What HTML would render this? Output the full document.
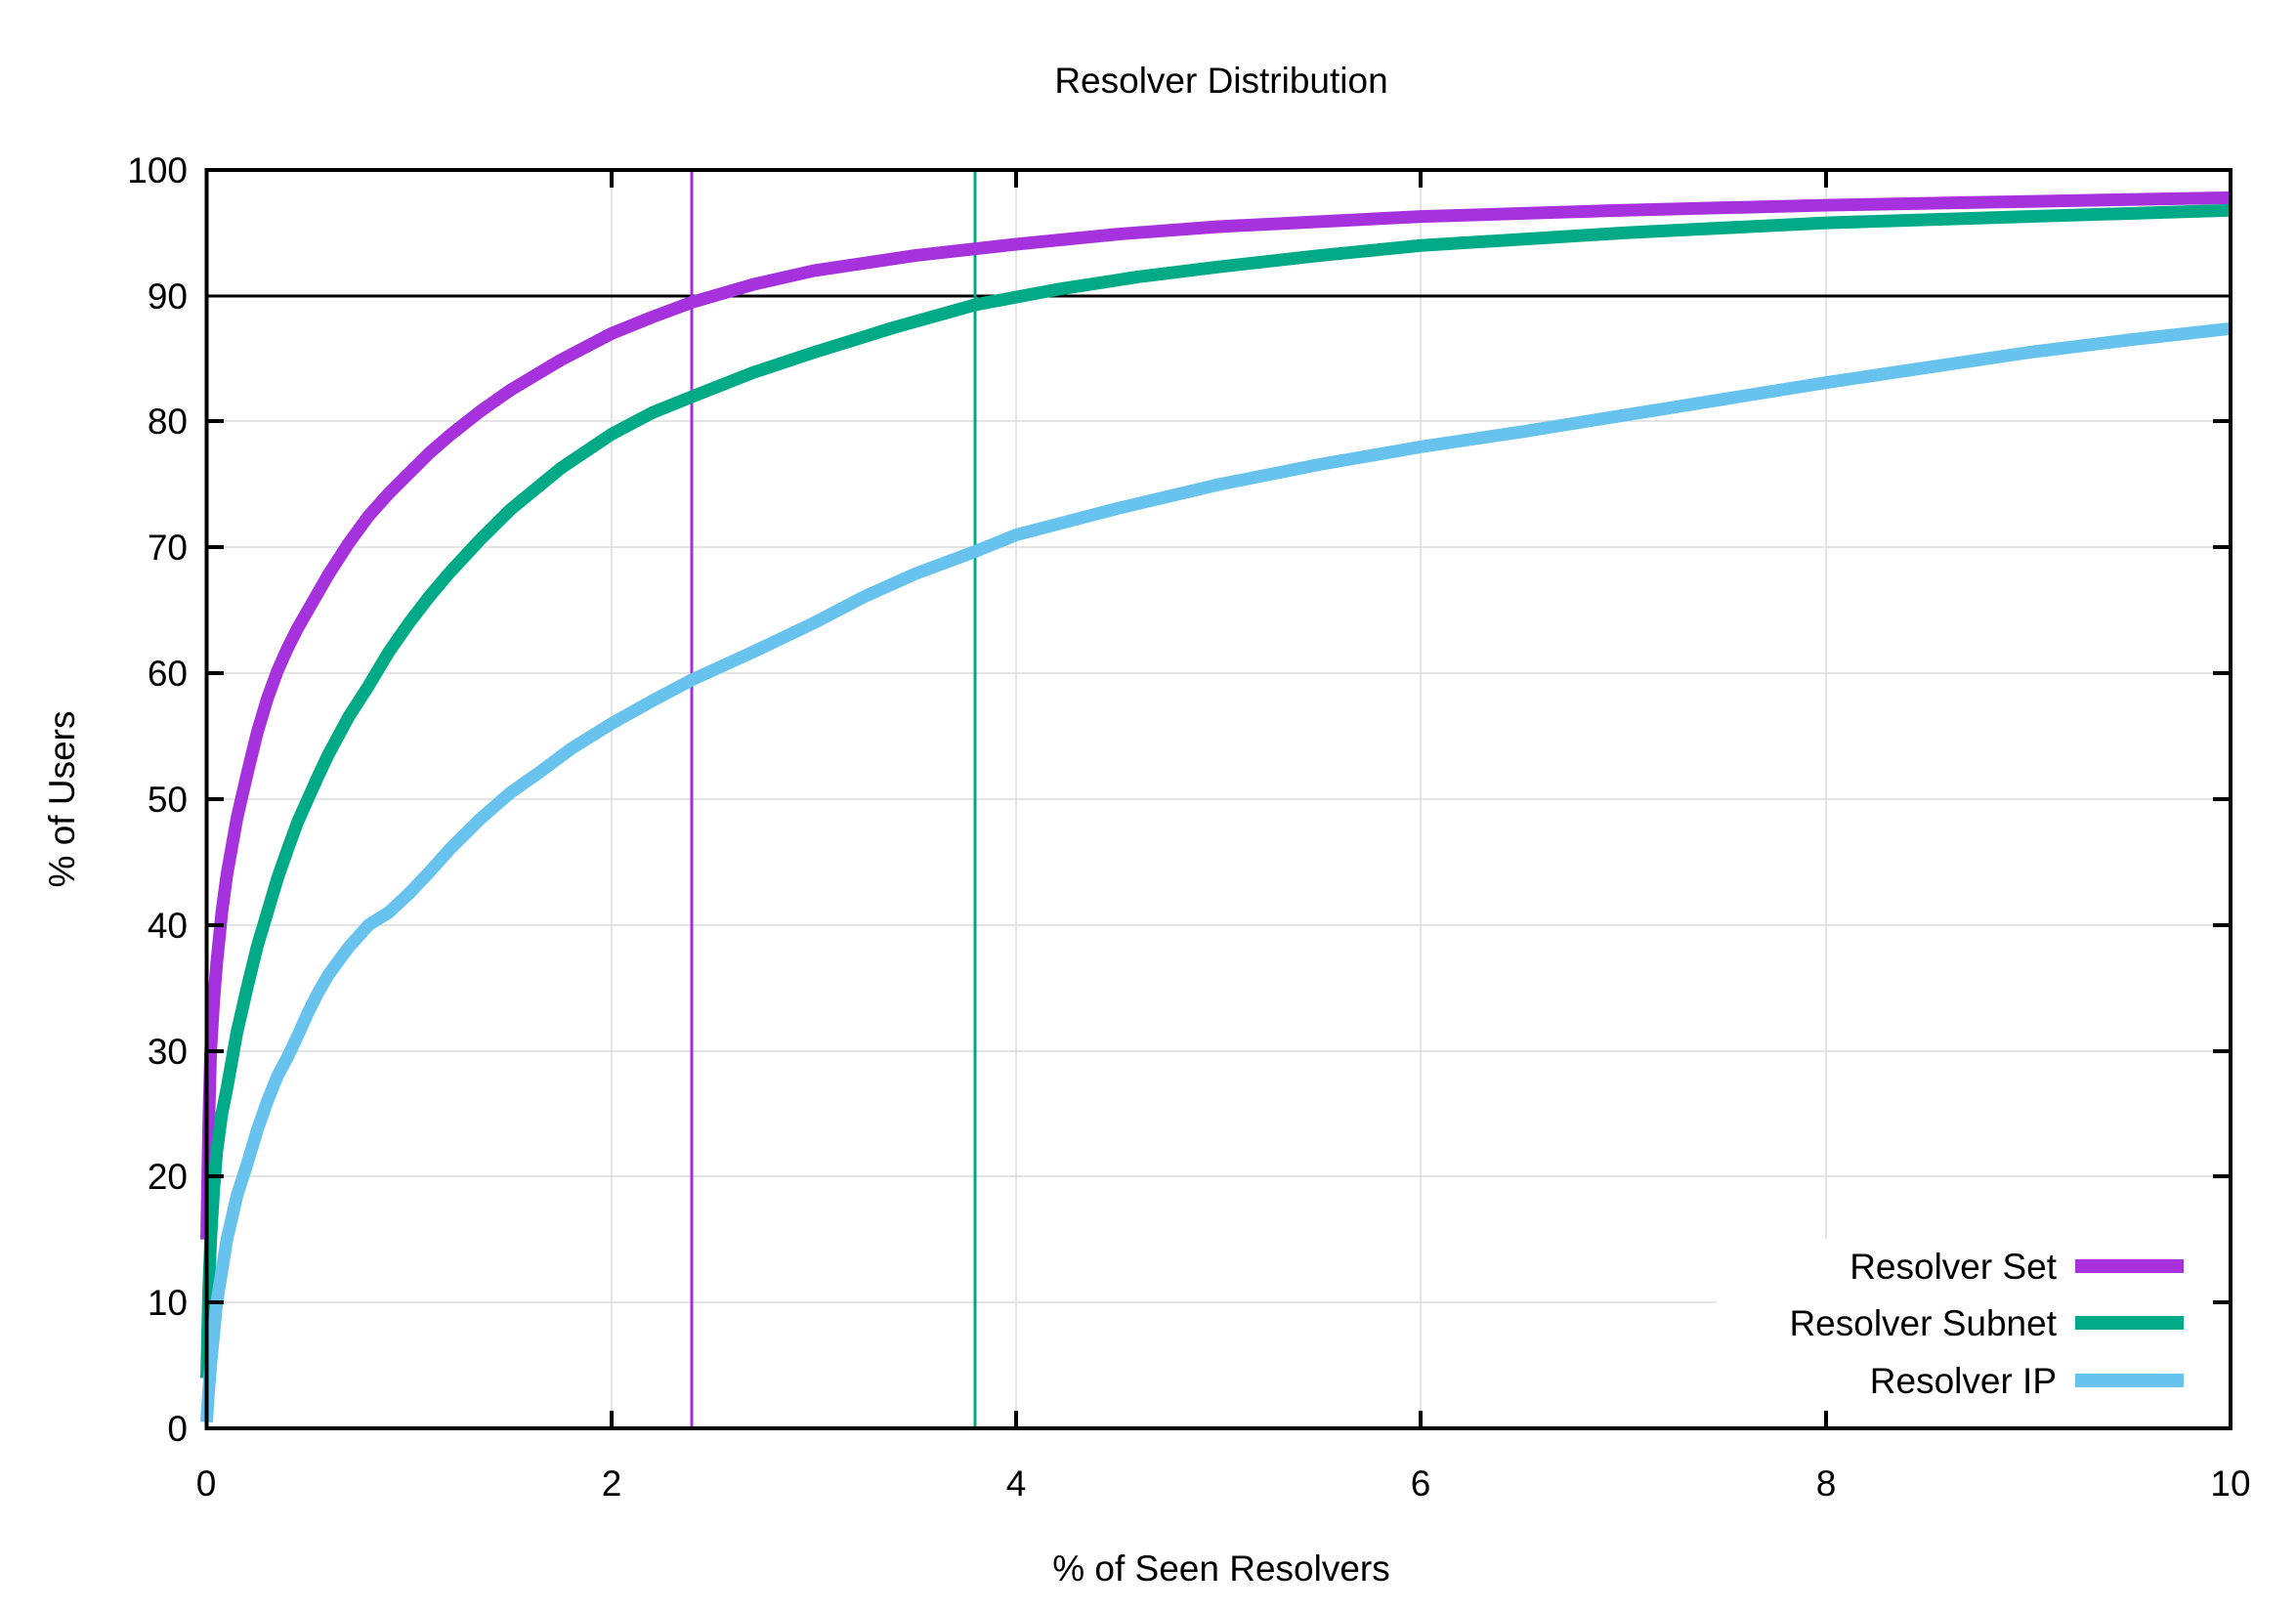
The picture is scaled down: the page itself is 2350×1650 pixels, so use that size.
<!DOCTYPE html>
<html><head><meta charset="utf-8"><style>
html,body{margin:0;padding:0;background:#fff;}
svg{display:block;font-family:"Liberation Sans",Arial,sans-serif;}
</style></head><body>
<svg width="2350" height="1650" viewBox="0 0 2350 1650" xmlns="http://www.w3.org/2000/svg">
<rect width="2350" height="1650" fill="#fff"/>
<g stroke="#dcdcdc" stroke-width="1.5">
<line x1="626" y1="174" x2="626" y2="1462"/>
<line x1="1040" y1="174" x2="1040" y2="1462"/>
<line x1="1454" y1="174" x2="1454" y2="1462"/>
<line x1="1869" y1="174" x2="1869" y2="1462"/>
<line x1="211" y1="1333" x2="2283" y2="1333"/>
<line x1="211" y1="1204" x2="2283" y2="1204"/>
<line x1="211" y1="1076" x2="2283" y2="1076"/>
<line x1="211" y1="947" x2="2283" y2="947"/>
<line x1="211" y1="818" x2="2283" y2="818"/>
<line x1="211" y1="689" x2="2283" y2="689"/>
<line x1="211" y1="560" x2="2283" y2="560"/>
<line x1="211" y1="431" x2="2283" y2="431"/>
</g>
<rect x="1757" y="1268" width="515" height="188" fill="#fff"/>
<line x1="211" y1="303" x2="2283" y2="303" stroke="#000" stroke-width="3"/>
<line x1="708" y1="174" x2="708" y2="1462" stroke="#a030dd" stroke-width="3"/>
<line x1="998" y1="174" x2="998" y2="1462" stroke="#00a884" stroke-width="3"/>
<g fill="none" stroke-linejoin="round" stroke-linecap="butt" transform="translate(211.5,1462) scale(207.15,-12.88)">
<polyline vector-effect="non-scaling-stroke" stroke="#a532dd" stroke-width="13" points="0,15 0.01,24 0.02,30 0.035,34 0.05,37 0.075,41 0.1,44 0.15,48.5 0.2,52 0.25,55.3 0.3,58 0.35,60.2 0.4,62 0.45,63.6 0.5,65 0.6,67.8 0.7,70.3 0.8,72.5 0.9,74.3 1,75.9 1.1,77.5 1.2,78.9 1.35,80.8 1.5,82.5 1.75,84.9 2,87 2.2,88.3 2.4,89.5 2.7,90.9 3,92 3.5,93.2 4,94.1 4.5,94.9 5,95.5 6,96.3 7,96.8 8,97.2 9,97.5 10,97.8"/>
<polyline vector-effect="non-scaling-stroke" stroke="#00aa87" stroke-width="13" points="0,4 0.01,11 0.02,15 0.035,19 0.05,22 0.075,25 0.1,27 0.15,31.5 0.2,35 0.25,38.3 0.3,41 0.35,43.7 0.4,46 0.45,48.2 0.5,50 0.55,51.8 0.6,53.5 0.7,56.5 0.8,59 0.9,61.7 1,64 1.1,66.1 1.2,68 1.35,70.6 1.5,73 1.75,76.3 2,79 2.2,80.7 2.4,82 2.7,83.9 3,85.5 3.4,87.5 3.8,89.3 4.2,90.5 4.6,91.5 5,92.3 5.5,93.2 6,94 7,95 8,95.8 9,96.3 10,96.8"/>
<polyline vector-effect="non-scaling-stroke" stroke="#68c2ee" stroke-width="13" points="0,0.5 0.01,3 0.02,5 0.035,7.5 0.05,10 0.075,12.5 0.1,15 0.15,18.5 0.2,21 0.25,23.7 0.3,26 0.35,28 0.4,29.5 0.45,31.2 0.5,33 0.55,34.6 0.6,36 0.7,38.2 0.8,40 0.9,41 1,42.5 1.1,44.2 1.2,46 1.35,48.4 1.5,50.5 1.65,52.2 1.8,54 2,56 2.2,57.8 2.4,59.5 2.7,61.7 3,64 3.25,66.1 3.5,67.9 3.8,69.7 4,71 4.5,73.1 5,75 5.5,76.6 6,78 6.5,79.2 7,80.5 7.5,81.8 8,83.1 8.5,84.3 9,85.5 9.5,86.5 10,87.4"/>
</g>
<rect x="211.5" y="174" width="2071.5" height="1288" fill="none" stroke="#000" stroke-width="4"/>
<g stroke="#000" stroke-width="4">
<line x1="626" y1="1462" x2="626" y2="1444"/><line x1="626" y1="174" x2="626" y2="192"/>
<line x1="1040" y1="1462" x2="1040" y2="1444"/><line x1="1040" y1="174" x2="1040" y2="192"/>
<line x1="1454" y1="1462" x2="1454" y2="1444"/><line x1="1454" y1="174" x2="1454" y2="192"/>
<line x1="1869" y1="1462" x2="1869" y2="1444"/><line x1="1869" y1="174" x2="1869" y2="192"/>
<line x1="211" y1="1333" x2="229" y2="1333"/><line x1="2283" y1="1333" x2="2265" y2="1333"/>
<line x1="211" y1="1204" x2="229" y2="1204"/><line x1="2283" y1="1204" x2="2265" y2="1204"/>
<line x1="211" y1="1076" x2="229" y2="1076"/><line x1="2283" y1="1076" x2="2265" y2="1076"/>
<line x1="211" y1="947" x2="229" y2="947"/><line x1="2283" y1="947" x2="2265" y2="947"/>
<line x1="211" y1="818" x2="229" y2="818"/><line x1="2283" y1="818" x2="2265" y2="818"/>
<line x1="211" y1="689" x2="229" y2="689"/><line x1="2283" y1="689" x2="2265" y2="689"/>
<line x1="211" y1="560" x2="229" y2="560"/><line x1="2283" y1="560" x2="2265" y2="560"/>
<line x1="211" y1="431" x2="229" y2="431"/><line x1="2283" y1="431" x2="2265" y2="431"/>
</g>
<g font-size="37" fill="#000" text-anchor="end">
<text x="192" y="1475">0</text><text x="192" y="1346">10</text><text x="192" y="1217">20</text>
<text x="192" y="1089">30</text><text x="192" y="960">40</text><text x="192" y="831">50</text>
<text x="192" y="702">60</text><text x="192" y="573">70</text><text x="192" y="444">80</text>
<text x="192" y="316">90</text><text x="192" y="187">100</text>
</g>
<g font-size="37" fill="#000" text-anchor="middle">
<text x="211" y="1531">0</text><text x="626" y="1531">2</text><text x="1040" y="1531">4</text>
<text x="1454" y="1531">6</text><text x="1869" y="1531">8</text><text x="2283" y="1531">10</text>
<text x="1250" y="95">Resolver Distribution</text>
<text x="1250" y="1618">% of Seen Resolvers</text>
<text transform="translate(76,818) rotate(-90)">% of Users</text>
</g>
<g font-size="37" fill="#000" text-anchor="end">
<text x="2105" y="1309">Resolver Set</text>
<text x="2105" y="1367">Resolver Subnet</text>
<text x="2105" y="1426">Resolver IP</text>
</g>
<rect x="2124" y="1289" width="111" height="14" fill="#a532dd"/>
<rect x="2124" y="1347" width="111" height="14" fill="#00aa87"/>
<rect x="2124" y="1406" width="111" height="14" fill="#68c2ee"/>
</svg>
</body></html>
